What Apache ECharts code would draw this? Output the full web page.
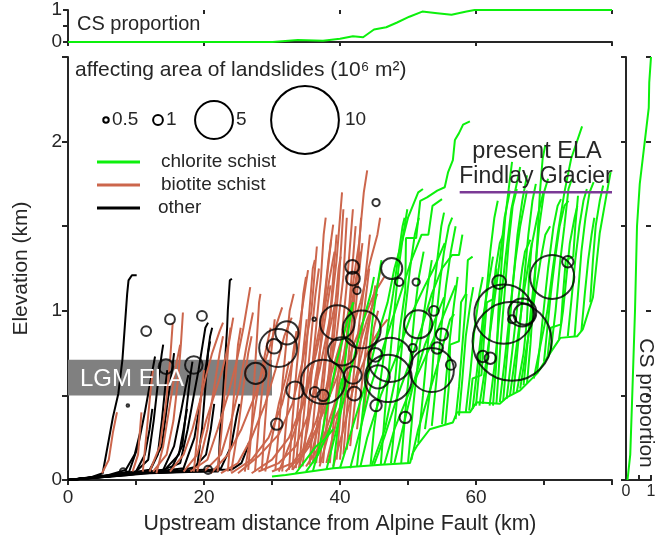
<!DOCTYPE html>
<html>
<head>
<meta charset="utf-8">
<title>Landslides and river profiles</title>
<script src="https://cdn.jsdelivr.net/npm/echarts/dist/echarts.min.js"></script>
<style>
  html, body { margin: 0; padding: 0; background: #fff; }
  #chart { width: 664px; height: 552px; }
</style>
</head>
<body>
<div id="chart"></div>
<script>
// river long profiles, [upstream distance km, elevation km]
var otherProfiles = [
    [[0,0],[3,0.01],[5.1,0.04],[6.6,0.37],[7.4,0.51],[8,0.71],[8.7,1.1],[8.9,1.18],[9.4,1.21],[10.1,1.21]],
    [[0,0],[5,0.02],[9,0.05],[10.3,0.2],[11.3,0.4],[12.2,0.6],[12.8,0.73]],
    [[0,0],[6,0.02],[10,0.05],[11.8,0.12],[12.6,0.35],[13.3,0.6],[13.8,0.75],[14,0.8]],
    [[0,0],[7,0.03],[12,0.06],[13.8,0.2],[14.6,0.45],[15.2,0.62],[15.6,0.75]],
    [[0,0],[8,0.03],[14,0.06],[16.5,0.1],[17.6,0.3],[18.5,0.5],[19.2,0.65],[19.8,0.8],[20.2,0.9],[20.6,0.93]],
    [[0,0],[13,0.05],[17,0.07],[18.6,0.25],[19.6,0.5],[20.4,0.7],[20.9,0.85],[21.2,0.9]],
    [[0,0],[9,0.03],[14,0.06],[15.6,0.2],[16.6,0.4],[17.3,0.55],[17.7,0.62]],
    [[0,0],[10,0.04],[18,0.05],[22.1,0.05],[22.4,0.31],[22.8,0.51],[23.4,0.9],[23.5,1.0],[23.8,1.18],[24.1,1.19]],
    [[0,0],[12,0.04],[20,0.05],[22.5,0.07],[24,0.2],[24.8,0.38],[25.2,0.45]],
    [[0,0],[11,0.04],[18,0.05],[20.3,0.15],[21,0.3],[21.5,0.45]],
    [[14,0.05],[20,0.06],[24,0.06],[25.5,0.1],[26.2,0.17],[26.6,0.22]],
    [[0,0],[9,0.04],[14,0.05],[16.3,0.15],[17,0.3],[17.5,0.42]],
    [[0,0],[7,0.03],[10,0.05],[11.3,0.15],[12,0.3],[12.4,0.42]],
    [[0,0],[6,0.03],[8.5,0.06],[9.8,0.15],[10.6,0.28]],
    [[0,0],[8,0.03],[12,0.05],[13.2,0.15],[13.8,0.35],[14.3,0.55],[14.6,0.65]],
    [[0,0],[10,0.04],[15,0.05],[16.8,0.2],[17.5,0.45],[18,0.62],[18.3,0.7]],
    [[0,0],[9,0.04],[16,0.05],[19,0.08],[19.7,0.3],[20.2,0.55],[20.6,0.75],[20.9,0.82]]
];

var biotiteProfiles = [
    [[5,0.04],[6,0.12],[6.6,0.28],[7.2,0.4]],
    [[9.5,0.05],[10.3,0.15],[10.6,0.3],[10.8,0.4]],
    [[12.5,0.05],[14.5,0.15],[15.5,0.35],[16.2,0.6],[16.6,0.8],[16.9,0.99]],
    [[12,0.05],[13.5,0.2],[14.4,0.45],[15,0.7],[15.4,0.93]],
    [[15,0.05],[17,0.15],[18.3,0.3],[19.3,0.45],[20.2,0.6],[21.2,0.75],[22.3,0.88],[22.8,0.93]],
    [[17,0.05],[19,0.15],[20.3,0.35],[21.5,0.5],[22.7,0.65],[23.7,0.82],[24.3,0.96]],
    [[18,0.05],[20.5,0.12],[22,0.3],[23.5,0.5],[24.8,0.7],[25.8,0.9],[26.8,1.14]],
    [[20,0.05],[22.5,0.15],[24,0.35],[25.2,0.55],[26.2,0.78],[27.2,0.99]],
    [[21,0.04],[23.5,0.15],[25.5,0.3],[27.5,0.5],[29,0.7],[30.5,0.9],[31.5,1.02]],
    [[22.5,0.04],[25,0.1],[27,0.25],[29,0.45],[30.5,0.65],[31.8,0.85],[32.9,0.96]],
    [[24,0.04],[27,0.12],[29.5,0.25],[31.5,0.45],[33,0.7],[34.2,0.95],[35.3,1.24]],
    [[25,0.04],[28,0.14],[31,0.27],[33,0.45],[34.5,0.7],[35.8,1.0],[36.6,1.38]],
    [[27,0.04],[30,0.12],[32.5,0.25],[34.5,0.45],[36,0.7],[37.5,1.0],[38.3,1.3],[39,1.51]],
    [[28,0.05],[31,0.1],[33.5,0.2],[35.5,0.4],[37,0.65],[38.5,0.95],[39.5,1.3],[40.3,1.7]],
    [[30,0.05],[33,0.1],[35,0.2],[36.5,0.35],[38,0.55],[39.5,0.85],[40.5,1.2],[41,1.55]],
    [[32,0.05],[34.5,0.15],[36.5,0.3],[38.5,0.5],[40,0.75],[41.5,1.05],[42.8,1.4],[43.5,1.7],[44,1.83]],
    [[33,0.06],[35.5,0.2],[37.5,0.4],[39.5,0.6],[41.5,0.85],[43,1.05],[44.5,1.3],[45.5,1.45],[45.9,1.55]],
    [[35,0.08],[37,0.2],[39,0.35],[41,0.5],[43,0.65],[44.5,0.8],[46,0.9],[47,0.95]],
    [[36,0.1],[38,0.3],[40,0.55],[42,0.8],[43.5,0.95],[45,1.1],[46.5,1.2]],
    [[19,0.05],[20.5,0.3],[21.5,0.55],[22.3,0.75],[22.8,0.85]],
    [[26,0.05],[27,0.3],[28,0.55],[29,0.75],[29.8,0.9]],
    [[29,0.05],[30,0.25],[31,0.45],[32,0.6],[32.5,0.7]],
    [[34,0.07],[35.2,0.3],[36.2,0.55],[37.2,0.8],[38,1.0],[38.6,1.15]],
    [[37,0.08],[38.5,0.3],[40,0.6],[41,0.85],[42,1.1],[42.8,1.3]],
    [[39,0.08],[40.5,0.3],[42,0.55],[43.5,0.8],[44.5,1.0],[45.5,1.1]],
    [[13,0.04],[14,0.2],[15,0.45],[16,0.7],[16.5,0.8]],
    [[24,0.05],[25,0.3],[25.8,0.55],[26.5,0.75],[27,0.85]],
    [[31,0.05],[33,0.25],[35,0.5],[36.5,0.75],[37.5,0.95],[38.5,1.2],[39.2,1.35]],
    [[35.5,0.1],[37,0.35],[38.5,0.6],[40,0.8],[41.5,1.0],[42.5,1.2],[43,1.35]],
    [[38,0.1],[39.5,0.35],[41,0.6],[42.5,0.75],[44,0.95],[45,1.05],[46,1.25]],
    [[26.5,0.06],[27,0.3],[27.4,0.6],[27.8,0.85],[28.1,1.05],[28.3,1.1]],
    [[28.5,0.06],[29,0.35],[29.5,0.6],[30,0.8],[30.4,0.95]],
    [[30.5,0.06],[31,0.3],[31.6,0.6],[32.2,0.85],[32.6,1.0],[33.2,1.1]],
    [[32.5,0.06],[33,0.35],[33.6,0.65],[34.2,0.9],[34.6,1.1],[35,1.2]],
    [[33.5,0.07],[34.2,0.4],[35,0.75],[35.6,1.05],[36,1.25],[36.3,1.3]],
    [[34.5,0.08],[35.3,0.4],[36,0.7],[36.6,0.95],[37.2,1.2],[37.6,1.45],[37.9,1.55]],
    [[36.5,0.1],[37.2,0.4],[37.9,0.7],[38.6,1.0],[39.2,1.3],[39.5,1.45]],
    [[37.5,0.1],[38.3,0.45],[39,0.8],[39.7,1.1],[40.2,1.4],[40.5,1.6]],
    [[39.5,0.12],[40.2,0.45],[40.9,0.8],[41.5,1.1],[42,1.35],[42.3,1.5]],
    [[40.5,0.15],[41.2,0.5],[41.9,0.85],[42.5,1.1],[43,1.3],[43.3,1.4]],
    [[41.5,0.2],[42.3,0.5],[43,0.8],[43.7,1.05],[44.3,1.25]],
    [[42.5,0.3],[43.3,0.6],[44,0.85],[44.8,1.05],[45.2,1.15]],
    [[43.5,0.4],[44.2,0.65],[45,0.9],[45.6,1.0]],
    [[22,0.05],[22.6,0.3],[23.2,0.6],[23.6,0.8],[23.9,0.9]],
    [[23.5,0.05],[24,0.3],[24.6,0.6],[25,0.8],[25.4,0.9]],
    [[18.5,0.05],[19,0.25],[19.6,0.5],[20,0.65]],
    [[11,0.05],[11.6,0.3],[12.2,0.55],[12.5,0.65]],
    [[34,0.07],[34.6,0.35],[35.3,0.65],[35.9,0.9],[36.4,1.1],[36.9,1.25]],
    [[35.5,0.09],[36.2,0.4],[36.9,0.7],[37.6,1.0],[38.1,1.2],[38.7,1.42]],
    [[36,0.1],[36.7,0.35],[37.4,0.6],[38,0.8],[38.8,0.95],[39.3,1.05]],
    [[37,0.1],[37.8,0.4],[38.5,0.7],[39.1,0.95],[39.8,1.25],[40.1,1.32]],
    [[38.5,0.1],[39.2,0.4],[39.9,0.7],[40.5,0.95],[41.1,1.2],[41.6,1.45],[41.9,1.6]],
    [[40,0.12],[40.7,0.45],[41.3,0.75],[41.9,1.0],[42.6,1.25],[43.1,1.55]],
    [[41,0.18],[41.6,0.45],[42.2,0.7],[42.9,0.95],[43.6,1.15],[44.4,1.45]],
    [[33,0.06],[33.5,0.3],[34.1,0.55],[34.7,0.8],[35.1,0.95]],
    [[31.5,0.05],[32,0.3],[32.6,0.55],[33.1,0.75],[33.6,0.88]],
    [[27.5,0.05],[28,0.3],[28.6,0.55],[29,0.7]]
];

var chloriteProfiles = [
    // main trunk
    [[30,0.02],[32,0.03],[39,0.07],[46,0.09],[50.3,0.1],[50.7,0.16],[51.3,0.2],[53.2,0.3],[56.6,0.34],[57.2,0.4],[59.1,0.4],[60.1,0.46],[63.5,0.45],[64.6,0.49],[66.5,0.53],[69,0.63],[70.9,0.75],[72.4,0.84],[74.9,0.85],[75.7,0.89],[77.2,1.08],[78.2,1.46],[79.3,1.71],[79.8,1.82]],
    [[44.7,0.09],[46.6,0.3],[48.1,0.59],[48.8,0.89],[49.6,1.12],[49.7,1.43],[51.2,1.43],[51.8,1.65],[52.8,1.67],[54.3,1.71],[55.4,1.73],[55.9,1.82],[56.6,1.89],[56.9,2.01],[57.5,2.05],[58.1,2.1],[59.1,2.12]],
    [[40,0.07],[41,0.2],[42.5,0.4],[44,0.6],[45.5,0.85],[47,1.05],[48,1.25],[49.2,1.42],[50,1.55],[51.5,1.7],[52.2,1.72]],
    [[41.5,0.07],[43,0.3],[44.5,0.55],[46.5,0.8],[48.5,1.05],[50.5,1.3],[52,1.45],[53,1.45],[53.6,1.62],[55,1.66]],
    [[43,0.08],[44,0.25],[46,0.5],[48.5,0.75],[50.5,0.98],[52.5,1.15],[53.8,1.25],[55.4,1.4]],
    [[45,0.09],[46.5,0.25],[48.5,0.5],[50.5,0.72],[52,0.9],[53.5,1.1],[55,1.25],[56.5,1.33],[57.5,1.33],[58,1.45]],
    [[46.5,0.09],[48,0.3],[50,0.5],[52.5,0.72],[54.5,0.9],[56,1.05],[57,1.15]],
    [[36,0.05],[37,0.2],[38.2,0.45],[39.5,0.7],[40.5,0.85],[41.3,0.98],[42,1.05]],
    [[38,0.06],[39.5,0.3],[41,0.55],[42.5,0.8],[43.5,0.95],[44.5,1.1],[45,1.2]],
    [[33.5,0.04],[35,0.12],[36.5,0.2],[38,0.25],[39,0.3]],
    [[35,0.05],[36.8,0.15],[38.5,0.3],[39.5,0.45],[40.3,0.6]],
    [[44.5,0.09],[45,0.3],[46,0.6],[47,0.9],[47.8,1.1],[48.5,1.3],[49.2,1.5],[49.5,1.55]],
    [[48,0.1],[49.5,0.35],[51,0.6],[52.5,0.8],[53.5,0.9],[54.5,1.0],[55.3,1.08]],
    [[50.5,0.12],[51.5,0.3],[53,0.5],[54.5,0.7],[55.5,0.85],[56.2,0.95],[56.8,0.98]],
    [[52.5,0.3],[53.5,0.6],[54,0.9],[54.8,1.2],[55.3,1.35],[56,1.5],[56.5,1.55]],
    [[46,0.09],[46.6,0.4],[47.3,0.7],[48,1.0],[48.6,1.25],[49.3,1.45],[49.9,1.6]],
    [[47.5,0.1],[48.2,0.4],[48.9,0.7],[49.6,1.0],[50.3,1.25],[51,1.45],[51.6,1.55]],
    [[49,0.1],[49.6,0.4],[50.3,0.7],[51,1.0],[51.6,1.2],[52.3,1.35]],
    [[50,0.1],[50.8,0.45],[51.6,0.75],[52.4,1.0],[53.1,1.2],[53.5,1.3]],
    [[51.5,0.22],[52.2,0.5],[52.9,0.8],[53.6,1.05],[54.3,1.3],[54.9,1.5],[55.3,1.58]],
    [[53.5,0.32],[54.2,0.6],[54.9,0.9],[55.6,1.15],[56.3,1.35],[57,1.5]],
    [[55,0.33],[55.6,0.6],[56.2,0.85],[56.8,1.05],[57.3,1.2]],
    [[42.5,0.08],[43.2,0.35],[44,0.65],[44.8,0.95],[45.5,1.15],[46.1,1.3]],
    [[39,0.07],[39.8,0.35],[40.6,0.65],[41.3,0.9],[41.9,1.05]],
    [[55.5,0.33],[56,0.55],[56.2,0.8],[57.5,0.82],[57.8,1.05],[58.5,1.1],[58.8,1.3],[59.5,1.32]],
    [[68.5,0.6],[69.5,0.8],[70.5,1.0],[71.3,1.25],[72,1.45],[73,1.7],[74,1.9],[75.6,2.09]],
    [[76.8,1.05],[77.2,1.3],[77.6,1.5],[78.2,1.65],[78.7,1.74]],
    [[72.2,0.83],[72.8,1.0],[73.3,1.2],[73.8,1.4],[74.5,1.55],[74.9,1.62]],
    [[66.5,0.54],[67.5,0.8],[68.5,1.05],[69.5,1.3],[70.2,1.45],[70.9,1.5]],
    [[65,0.5],[66,0.8],[67,1.1],[68,1.35],[69,1.55],[69.9,1.7]],
    [[63.5,0.46],[64.2,0.7],[65,1.0],[65.8,1.3],[66.5,1.5],[67.5,1.71]],
    [[62,0.44],[62.8,0.7],[63.5,1.0],[64.3,1.3],[65.2,1.6],[66.5,1.85]],
    [[60.5,0.44],[61.5,0.7],[62.5,1.0],[63.5,1.3],[64.2,1.55],[65,1.71]],
    [[66,0.52],[67,0.75],[67.5,0.95],[67.8,1.2],[68.2,1.4]],
    [[59.5,0.42],[60.3,0.7],[61,0.95],[61.8,1.15],[62.5,1.32]],
    [[58.5,0.4],[59.2,0.65],[59.8,0.9],[60.5,1.1],[61,1.2]],
    [[57.5,0.38],[58,0.6],[58.5,0.85],[59.2,1.05],[59.6,1.14]],
    [[57,0.36],[57.5,0.55],[58,0.8],[58.4,1.0],[58.6,1.1]],
    [[61,0.45],[61.8,0.75],[62.3,1.0],[62.9,1.25],[63.5,1.4],[64,1.45]],
    [[64.5,0.48],[65.3,0.75],[66,1.0],[66.8,1.25],[67.2,1.35],[68,1.42]],
    [[70,0.7],[70.5,0.9],[71,1.1],[71.6,1.3],[72.3,1.5],[73,1.62],[73.6,1.65]],
    [[75.5,0.88],[76,1.1],[76.5,1.3],[77,1.45],[77.4,1.55]],
    [[67.5,0.57],[68,0.8],[68.5,1.1],[69,1.4],[69.4,1.7],[69.8,1.9],[70.2,1.98]],
    [[62.5,0.44],[63,0.7],[63.3,1.0],[63.8,1.3],[64.3,1.55],[64.9,1.75],[65.3,1.88]],
    [[60,0.44],[60.7,0.75],[61.4,1.05],[62.1,1.35],[62.7,1.55],[63.2,1.65]],
    [[63,0.45],[63.6,0.8],[64.2,1.1],[64.8,1.4],[65.4,1.62],[66,1.72]],
    [[64,0.47],[64.7,0.8],[65.4,1.15],[66.1,1.45],[66.8,1.65],[67.5,1.8]],
    [[65.5,0.51],[66.3,0.85],[67,1.15],[67.7,1.45],[68.3,1.65],[68.8,1.75]],
    [[67,0.56],[67.8,0.9],[68.6,1.2],[69.3,1.5],[70,1.7],[70.6,1.78]],
    [[69,0.64],[69.8,0.95],[70.6,1.25],[71.4,1.5],[72,1.62],[72.5,1.66]],
    [[71,0.76],[71.7,1.0],[72.4,1.3],[73,1.5],[73.6,1.72],[74.1,1.78]],
    [[73.5,0.85],[74,1.05],[74.6,1.3],[75.2,1.5],[75.8,1.65],[76.3,1.72]],
    [[74.5,0.85],[75,1.1],[75.5,1.35],[76.1,1.55],[76.7,1.7],[77.3,1.76]],
    [[70.5,0.72],[71,0.9],[72.5,0.92],[72.8,1.1],[73.2,1.3],[74.3,1.32],[74.6,1.5],[75,1.68]],
    [[59,0.41],[59.5,0.6],[60.8,0.62],[61.2,0.85],[61.6,1.05],[62.6,1.07],[63,1.25]]
];

// landslides
var landslideDist = [11.5, 15.0, 19.7, 14.4, 18.5, 8.8, 20.6, 8.1,
    27.6, 30.9, 32.2, 30.3, 30.7, 36.2,
    41.8, 41.9, 42.5, 47.6, 48.7, 51.2, 45.3,
    39.6, 43.2, 40.3, 37.5, 36.3, 37.5, 41.9, 42.1, 45.2, 45.6, 47.4, 47.1, 45.3, 50.7, 51.5, 53.8, 55.0, 54.3, 53.5, 56.3, 49.6, 33.4,
    63.4, 64.1, 65.3, 66.8, 67.1, 65.3, 61.0, 62.1, 71.2, 73.5];
var landslideElev = [0.88, 0.95, 0.97, 0.67, 0.68, 0.44, 0.06, 0.05,
    0.63, 0.78, 0.87, 0.79, 0.33, 0.95,
    1.26, 1.19, 1.12, 1.25, 1.17, 1.17, 1.64,
    0.93, 0.89, 0.76, 0.58, 0.52, 0.50, 0.62, 0.51, 0.74, 0.61, 0.71, 0.60, 0.44, 0.78, 0.92, 1.0, 0.86, 0.78, 0.65, 0.68, 0.37, 0.53,
    1.17, 0.98, 0.82, 0.99, 0.98, 0.95, 0.73, 0.72, 1.20, 1.29];
var landslideArea = [1, 1, 1, 1.6, 2, 0.2, 0.8, 0.6,
    2.5, 5, 2.8, 1.6, 1.2, 0.3,
    1.5, 1.5, 0.7, 2.5, 0.8, 0.7, 0.7,
    4.5, 5, 3.5, 6, 1, 1.2, 2, 1.5, 1.5, 2.8, 6, 6.5, 1.2, 0.8, 3.5, 1, 1.3, 1.2, 6, 1, 1.2, 2,
    1.5, 8.5, 12, 3.5, 2.5, 0.8, 1.2, 1.2, 6, 1.2];
var legendAreas = [0.5, 1, 5, 10];

// chlorite schist proportion
var csDist = [0, 30.1, 33.8, 37.5, 40, 41.9, 43.4, 45, 46.8, 48.4, 50.2, 52.1, 54.3, 56.4, 58.6, 59.8, 80];
var csByDist = [0, 0, 0.06, 0.04, 0.1, 0.18, 0.15, 0.39, 0.46, 0.61, 0.79, 0.95, 0.9, 0.85, 0.95, 1, 1];
var csElev = [0, 0.15, 0.5, 1.0, 1.5, 1.75, 2.0, 2.2, 2.35, 2.5];
var csByElev = [0.06, 0.17, 0.25, 0.36, 0.44, 0.55, 0.75, 0.91, 0.93, 1.0];

var lgmEla = [0.5, 0.71];
var lgmDist = [0, 30];
var presentEla = 1.70;
var presentElaDist = [57.6, 80];

var GREEN = '#0cf00c', BROWN = '#cc664c', BLACK = '#000000', AXIS = '#262626';
var FONT = '"Liberation Sans", Arial, sans-serif';

function slideSize(a){
    return 9.8 * Math.pow(a, 0.84);
}

function profileSeries(list, color){
    return list.map(function(pts){
        return {
            type: 'line', xAxisIndex: 0, yAxisIndex: 0,
            data: pts, symbol: 'none', silent: true,
            lineStyle: { color: color, width: 2 }
        };
    });
}

var chart = echarts.init(document.getElementById('chart'), null, { renderer: 'canvas' });

var series = [];
// LGM ELA band
series.push({
    type: 'line', xAxisIndex: 0, yAxisIndex: 0, data: [], silent: true, z: 1,
    markArea: {
        silent: true,
        itemStyle: { color: '#808080', opacity: 1 },
        label: { show: false },
        data: [[{ xAxis: lgmDist[0], yAxis: lgmEla[0] }, { xAxis: lgmDist[1], yAxis: lgmEla[1] }]]
    }
});
series = series.concat(profileSeries(otherProfiles, BLACK));
series = series.concat(profileSeries(biotiteProfiles, BROWN));
series = series.concat(profileSeries(chloriteProfiles, GREEN));
// present ELA
series.push({
    type: 'line', xAxisIndex: 0, yAxisIndex: 0, symbol: 'none', silent: true, z: 5,
    data: [[presentElaDist[0], presentEla], [presentElaDist[1], presentEla]],
    lineStyle: { color: '#7b3a96', width: 2.5 }
});
series.push({
    type: 'scatter', xAxisIndex: 0, yAxisIndex: 0, z: 6, silent: true,
    data: landslideDist.map(function(d, i){ return [d, landslideElev[i], landslideArea[i]]; }),
    symbol: 'circle',
    symbolSize: function(v){ return slideSize(v[2]); },
    itemStyle: { color: 'rgba(0,0,0,0)', borderColor: BLACK, borderWidth: 2 }
});
series.push({
    type: 'line', xAxisIndex: 1, yAxisIndex: 1, symbol: 'none', silent: true,
    data: csDist.map(function(d, i){ return [d, csByDist[i]]; }),
    lineStyle: { color: GREEN, width: 2 }
});
series.push({
    type: 'line', xAxisIndex: 2, yAxisIndex: 2, symbol: 'none', silent: true,
    data: csElev.map(function(e, i){ return [csByElev[i], e]; }),
    lineStyle: { color: GREEN, width: 2 }
});

var labelStyle = { color: AXIS, fontSize: 19, fontFamily: FONT };
var lineStyle = { color: AXIS, width: 2 };

// legend graphics
var graphics = [
    { type: 'text', x: 75, y: 70, style: { text: 'affecting area of landslides (10\u2076 m\u00b2)', fill: AXIS, fontSize: 21, fontFamily: FONT, verticalAlign: 'middle' } },
    { type: 'text', x: 77, y: 24, style: { text: 'CS proportion', fill: AXIS, fontSize: 20, fontFamily: FONT, verticalAlign: 'middle' } },
    { type: 'text', x: 646, y: 403, rotation: -Math.PI / 2, style: { text: 'CS proportion', fill: AXIS, fontSize: 21, fontFamily: FONT, align: 'center', verticalAlign: 'middle' } },
    { type: 'text', x: 537, y: 152, z: 10, style: { text: 'present ELA', fill: AXIS, fontSize: 23.5, fontFamily: FONT, align: 'center', verticalAlign: 'middle' } },
    { type: 'text', x: 536, y: 177, z: 10, style: { text: 'Findlay Glacier', fill: AXIS, fontSize: 23, fontFamily: FONT, align: 'center', verticalAlign: 'middle' } },
    { type: 'text', x: 80, y: 379, z: 10, style: { text: 'LGM ELA', fill: '#ffffff', fontSize: 24, fontFamily: FONT, verticalAlign: 'middle' } }
];
var legendX = [106, 158, 214, 305];
var legendLabelX = [112, 166, 236, 345];
var legendText = ['0.5', '1', '5', '10'];
legendAreas.forEach(function(a, i){
    graphics.push({ type: 'circle', shape: { cx: legendX[i], cy: 120, r: slideSize(a) / 2 }, style: { fill: null, stroke: BLACK, lineWidth: 2 } });
    graphics.push({ type: 'text', x: legendLabelX[i], y: 120, style: { text: legendText[i], fill: AXIS, fontSize: 19, fontFamily: FONT, verticalAlign: 'middle' } });
});
[[GREEN, 162, 'chlorite schist', 161], [BROWN, 185, 'biotite schist', 161], [BLACK, 208, 'other', 158]].forEach(function(l){
    graphics.push({ type: 'line', shape: { x1: 97, y1: l[1], x2: 140, y2: l[1] }, style: { stroke: l[0], lineWidth: 3 } });
    graphics.push({ type: 'text', x: l[3], y: l[1], style: { text: l[2], fill: AXIS, fontSize: 19, fontFamily: FONT, verticalAlign: 'middle' } });
});

var option = {
    animation: false,
    backgroundColor: '#ffffff',
    grid: [
        { left: 68, top: 57, width: 544, height: 423 },
        { left: 68, top: 10, width: 544, height: 32 },
        { left: 626, top: 57, width: 25, height: 423 }
    ],
    xAxis: [
        {
            gridIndex: 0, type: 'value', min: 0, max: 80, interval: 10,
            name: 'Upstream distance from Alpine Fault (km)', nameLocation: 'middle', nameGap: 34,
            nameTextStyle: { color: AXIS, fontSize: 21.3, fontFamily: FONT },
            axisLine: { show: true, lineStyle: lineStyle },
            axisTick: { show: true, length: 5, lineStyle: lineStyle },
            axisLabel: Object.assign({ margin: 8, formatter: function(v){ return (v % 20 === 0 && v < 80) ? String(v) : ''; } }, labelStyle),
            splitLine: { show: false }
        },
        {
            gridIndex: 1, type: 'value', min: 0, max: 80, interval: 20,
            axisLine: { show: true, lineStyle: lineStyle },
            axisTick: { show: true, length: 4, lineStyle: lineStyle },
            axisLabel: { show: false }, splitLine: { show: false }
        },
        {
            gridIndex: 2, type: 'value', min: 0, max: 1, interval: 0.5,
            axisLine: { show: true, lineStyle: lineStyle },
            axisTick: { show: true, inside: true, length: 5, lineStyle: lineStyle },
            axisLabel: { show: true, margin: 4, color: AXIS, fontSize: 16, fontFamily: FONT, formatter: function(v){ return v % 1 === 0 ? String(v) : ''; } },
            splitLine: { show: false }
        },
        {
            gridIndex: 1, type: 'value', min: 0, max: 80, interval: 20,
            axisLine: { show: false },
            axisTick: { show: true, inside: true, length: 4, lineStyle: lineStyle },
            axisLabel: { show: false }, splitLine: { show: false }
        }
    ],
    yAxis: [
        {
            gridIndex: 0, type: 'value', min: 0, max: 2.5, interval: 0.5,
            name: 'Elevation (km)', nameLocation: 'middle', nameGap: 36, nameRotate: 90,
            nameTextStyle: { color: AXIS, fontSize: 21, fontFamily: FONT },
            axisLine: { show: true, lineStyle: lineStyle },
            axisTick: { show: true, length: 6, lineStyle: lineStyle },
            axisLabel: Object.assign({ margin: 6, formatter: function(v){ return v % 1 === 0 ? String(v) : ''; } }, labelStyle),
            splitLine: { show: false }
        },
        {
            gridIndex: 1, type: 'value', min: 0, max: 1, interval: 0.5,
            axisLine: { show: true, lineStyle: lineStyle },
            axisTick: { show: true, length: 5, lineStyle: lineStyle },
            axisLabel: Object.assign({ margin: 6, formatter: function(v){ return v % 1 === 0 ? String(v) : ''; } }, labelStyle),
            splitLine: { show: false }
        },
        {
            gridIndex: 2, type: 'value', min: 0, max: 2.5, interval: 0.5,
            axisLine: { show: true, lineStyle: lineStyle },
            axisTick: { show: true, length: 5, lineStyle: lineStyle },
            axisLabel: { show: false }, splitLine: { show: false }
        },
        {
            gridIndex: 2, type: 'value', min: 0, max: 2.5, interval: 0.5,
            axisLine: { show: false },
            axisTick: { show: true, inside: true, length: 5, lineStyle: lineStyle },
            axisLabel: { show: false }, splitLine: { show: false }
        }
    ],
    graphic: graphics,
    series: series
};

chart.setOption(option);
</script>
</body>
</html>
